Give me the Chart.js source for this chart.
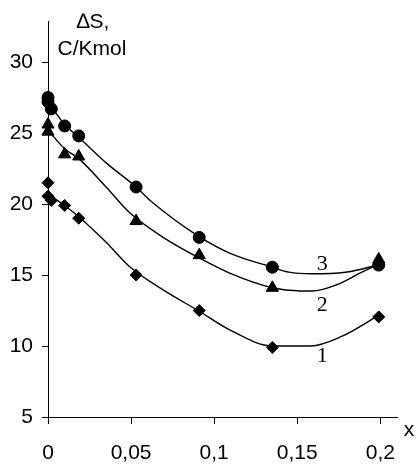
<!DOCTYPE html>
<html>
<head>
<meta charset="utf-8">
<script src="https://cdn.jsdelivr.net/npm/chart.js@4.4.1/dist/chart.umd.min.js"></script>
<style>
  html, body { margin: 0; padding: 0; background: #fff; }
  #wrap { width: 417px; height: 470px; position: relative; }
</style>
</head>
<body>
<div id="wrap"><canvas id="c" width="417" height="470"></canvas></div>
<script>
// ---- measured points ----
const xDiamond = [0, 0, 0.002, 0.01, 0.0185, 0.053, 0.091, 0.135, 0.199];
const yDiamond = [21.5, 20.55, 20.25, 19.9, 19.0, 15.0, 12.5, 9.9, 12.05];
const xTriangle = [0, 0, 0.01, 0.0185, 0.053, 0.091, 0.135, 0.199];
const yTriangle = [25.6, 25.1, 23.5, 23.35, 18.8, 16.4, 14.1, 16.1];
const xCircle = [0, 0, 0.002, 0.01, 0.0185, 0.053, 0.091, 0.135, 0.199];
const yCircle = [27.5, 27.2, 26.7, 25.5, 24.8, 21.2, 17.65, 15.55, 15.7];

// ---- fitted curves ----
const xCurve1 = [0, 0.01, 0.0185, 0.035, 0.049, 0.07, 0.091, 0.109, 0.135, 0.158, 0.177, 0.198];
const yCurve1 = [20.7, 19.9, 19.1, 17.3, 15.6, 13.9, 12.45, 11.16, 10.0, 10.0, 10.69, 12.08];
const xCurve2 = [0, 0.01, 0.0185, 0.035, 0.049, 0.07, 0.091, 0.11, 0.135, 0.145, 0.159, 0.173, 0.187, 0.197];
const yCurve2 = [25.2, 23.9, 23.2, 21.2, 19.4, 17.6, 16.2, 15.1, 14.1, 13.93, 13.87, 14.28, 15.09, 15.67];
const xCurve3 = [0, 0.01, 0.0185, 0.035, 0.053, 0.062, 0.091, 0.11, 0.135, 0.145, 0.159, 0.179, 0.193, 0.198];
const yCurve3 = [27.2, 25.6, 24.7, 22.9, 21.2, 20.2, 17.7, 16.5, 15.55, 15.2, 15.09, 15.2, 15.55, 15.75];

// ---- ticks and labels ----
const xTicks = [0, 0.05, 0.1, 0.15, 0.2];
const xTickLabels = ['0', '0,05', '0,1', '0,15', '0,2'];
const yTicks = [5, 10, 15, 20, 25, 30];
const curveLabels = ['1', '2', '3'];
const curveLabelX = [0.165, 0.165, 0.165];
const curveLabelY = [9.3, 12.85, 15.78];

const pts = (xs, ys) => xs.map((x, i) => ({ x: x, y: ys[i] }));

const markerDs = (data, style, r) => ({
  data: data, showLine: false, pointStyle: style, pointRadius: r,
  pointBackgroundColor: '#000', pointBorderColor: '#000', pointBorderWidth: 1,
  clip: false, order: 0
});
const curveDs = (data) => ({
  data: data, showLine: true, pointRadius: 0, borderColor: '#000',
  borderWidth: 1.4, cubicInterpolationMode: 'monotone', fill: false, clip: false, order: 1
});

const textPlugin = {
  id: 'texts',
  afterDraw(chart) {
    const ctx = chart.ctx;
    const xs = chart.scales.x, ys = chart.scales.y;
    ctx.save();
    ctx.fillStyle = '#000';
    ctx.textAlign = 'center';
    ctx.textBaseline = 'middle';
    ctx.font = '21px "Liberation Sans", Arial, sans-serif';
    ctx.fillText('\u2206S,', 93, 22);
    ctx.fillText('C/Kmol', 92, 49);
    ctx.fillText('x', 409, 430);
    ctx.font = '22px "Liberation Serif", "Times New Roman", serif';
    curveLabels.forEach((t, i) => {
      ctx.fillText(t, xs.getPixelForValue(curveLabelX[i]), ys.getPixelForValue(curveLabelY[i]));
    });
    ctx.restore();
  }
};

new Chart(document.getElementById('c'), {
  type: 'scatter',
  data: {
    datasets: [
      markerDs(pts(xDiamond, yDiamond), 'rectRot', 6),
      markerDs(pts(xTriangle, yTriangle), 'triangle', 7),
      markerDs(pts(xCircle, yCircle), 'circle', 6),
      curveDs(pts(xCurve1, yCurve1)),
      curveDs(pts(xCurve2, yCurve2)),
      curveDs(pts(xCurve3, yCurve3))
    ]
  },
  options: {
    responsive: false,
    animation: false,
    devicePixelRatio: 1,
    layout: { padding: { top: 17, right: 20, left: 0, bottom: 0 } },
    plugins: { legend: { display: false }, tooltip: { enabled: false } },
    scales: {
      x: {
        type: 'linear', min: 0, max: 0.21,
        afterBuildTicks: (s) => { s.ticks = xTicks.map(v => ({ value: v })); },
        afterFit: (s) => { s.height = 53; },
        ticks: {
          color: '#000', padding: 17, maxRotation: 0, autoSkip: false,
          font: { family: '"Liberation Sans", Arial, sans-serif', size: 21 },
          callback: (v) => { const i = xTicks.indexOf(v); return i >= 0 ? xTickLabels[i] : ''; }
        },
        grid: { display: true, drawOnChartArea: false, drawTicks: true, tickLength: 7, color: '#000', lineWidth: 1 },
        border: { display: true, color: '#000', width: 1 }
      },
      y: {
        type: 'linear', min: 5, max: 32.85,
        afterBuildTicks: (s) => { s.ticks = yTicks.map(v => ({ value: v })); },
        afterFit: (s) => { s.width = 48; },
        ticks: {
          color: '#000', padding: 9,
          font: { family: '"Liberation Sans", Arial, sans-serif', size: 21 },
          callback: (v) => String(v)
        },
        grid: { display: true, drawOnChartArea: false, drawTicks: true, tickLength: 6, color: '#000', lineWidth: 1 },
        border: { display: true, color: '#000', width: 1 }
      }
    }
  },
  plugins: [textPlugin]
});
</script>
</body>
</html>
